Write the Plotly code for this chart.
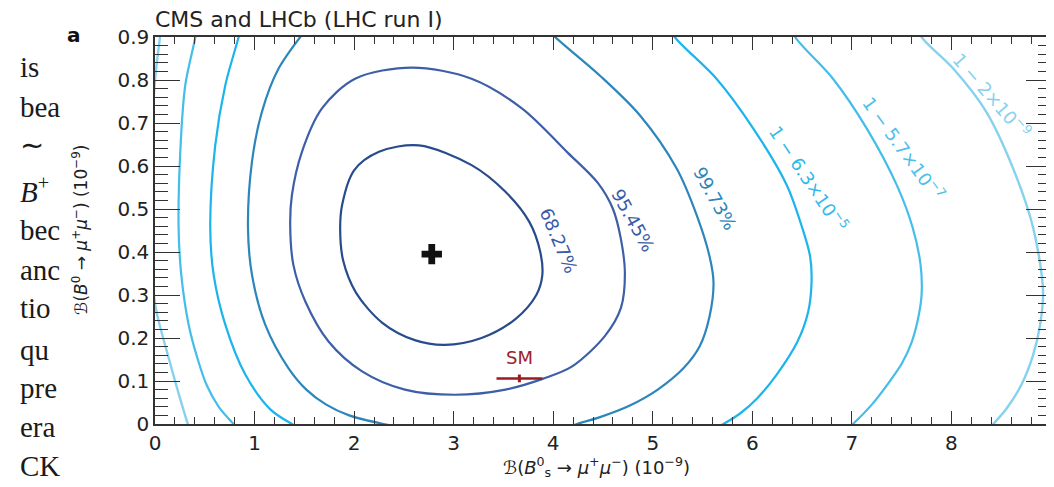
import plotly.graph_objects as go

# ---------------- data ----------------
x_ticks = [0, 1, 2, 3, 4, 5, 6, 7, 8, 9]
y_ticks = [0, 0.1, 0.2, 0.3, 0.4, 0.5, 0.6, 0.7, 0.8, 0.9]

best_fit_x = [2.78]
best_fit_y = [0.395]

sm_x = [3.66]
sm_y = [0.106]
sm_xerr = [0.23]
sm_yerr = [0.009]

# 68.27 % contour (closed)
c1_x = [2.65, 3.18, 3.52, 3.76, 3.87, 3.89, 3.83, 3.62, 3.28, 2.91, 2.61, 2.28, 2.02, 1.89, 1.86, 1.88, 2.00, 2.25, 2.65]
c1_y = [0.648, 0.602, 0.540, 0.470, 0.40, 0.345, 0.300, 0.244, 0.200, 0.184, 0.195, 0.236, 0.305, 0.38, 0.451, 0.51, 0.59, 0.633, 0.648]

# 95.45 % contour (closed)
c2_x = [2.58, 3.18, 3.685, 4.15, 4.45, 4.60, 4.68, 4.72, 4.68, 4.52, 4.19, 3.90, 3.52, 3.015, 2.51, 2.08, 1.743, 1.51, 1.39, 1.358, 1.375, 1.476, 1.677, 2.01, 2.58]
c2_y = [0.829, 0.803, 0.734, 0.630, 0.560, 0.500, 0.430, 0.350, 0.270, 0.205, 0.134, 0.1055, 0.080, 0.068, 0.080, 0.1225, 0.192, 0.285, 0.370, 0.463, 0.532, 0.633, 0.734, 0.803, 0.829]

# 99.73 % contour (left arc, gap, right arc)
c3_x = [1.56, 1.24, 1.074, 0.974, 0.934, 0.974, 1.107, 1.34, 1.52, 1.72, 1.95, 2.295, 2.6, None,
        3.9, 4.0, 4.47, 4.87, 5.24, 5.45, 5.57, 5.61, 5.57, 5.47, 5.31, 5.05, 4.77, 4.47, 4.24, 4.0]
c3_y = [0.93, 0.826, 0.726, 0.61, 0.457, 0.347, 0.231, 0.130, 0.080, 0.045, 0.020, 0.0, -0.012, None,
        0.93, 0.904, 0.81, 0.718, 0.594, 0.48, 0.39, 0.33, 0.25, 0.18, 0.13, 0.08, 0.043, 0.016, 0.0, -0.02]

# 1 - 6.3e-5 contour
c4_x = [0.87, 0.84, 0.706, 0.605, 0.555, 0.589, 0.706, 0.907, 1.158, 1.375, 1.5, None,
        5.15, 5.22, 5.64, 6.01, 6.345, 6.50, 6.58, 6.595, 6.56, 6.45, 6.245, 6.05, 5.88, 5.71, 5.5]
c4_y = [0.93, 0.9, 0.788, 0.648, 0.457, 0.347, 0.231, 0.115, 0.034, 0.0, -0.015, None,
        0.93, 0.9, 0.803, 0.687, 0.556, 0.457, 0.39, 0.331, 0.26, 0.19, 0.115, 0.06, 0.025, 0.0, -0.025]

# 1 - 5.7e-7 contour
c5_x = [0.42, 0.405, 0.304, 0.254, 0.237, 0.264, 0.338, 0.43, 0.52, 0.64, 0.79, 0.9, None,
        6.38, 6.43, 6.81, 7.15, 7.45, 7.61, 7.69, 7.70, 7.66, 7.60, 7.50, 7.38, 7.20, 7.01, 6.85]
c5_y = [0.93, 0.9, 0.788, 0.633, 0.457, 0.347, 0.231, 0.15, 0.09, 0.04, 0.0, -0.025, None,
        0.93, 0.9, 0.803, 0.687, 0.556, 0.457, 0.37, 0.30, 0.24, 0.19, 0.14, 0.0993, 0.045, 0.0, -0.03]

# 1 - 2e-9 contour
c6_x = [0.06, 0.05, 0.0, -0.04, -0.04, 0.0, 0.137, 0.27, 0.33, 0.36, None,
        7.65, 7.70, 8.02, 8.35, 8.62, 8.82, 8.92, 8.89, 8.82, 8.70, 8.55, 8.42, 8.3]
c6_y = [0.93, 0.9, 0.80, 0.6, 0.45, 0.28, 0.154, 0.045, 0.0, -0.02, None,
        0.93, 0.9, 0.826, 0.726, 0.594, 0.457, 0.31, 0.23, 0.16, 0.09, 0.035, 0.0, -0.03]

level_names = ["68.27%", "95.45%", "99.73%",
               "1 − 6.3×10<sup>−5</sup>", "1 − 5.7×10<sup>−7</sup>", "1 − 2×10<sup>−9</sup>"]
label_x = [4.052, 4.805, 5.627, 6.562, 7.516, 8.404]
label_y = [0.426, 0.474, 0.525, 0.571, 0.641, 0.765]
label_angle = [67, 61, 61, 56, 54, 49]

page_text = ["is", "bea", "∼", "<i>B</i><sup>+</sup>", "bec", "anc", "tio", "qu", "pre", "era", "CK"]
page_text_py = [67, 107, 145, 190, 230, 270, 308, 350, 388, 428, 467]

# ---------------- styling ----------------
line_colors = ["#284b8c", "#3d5fa8", "#2c86bc", "#1cb4ec", "#44bdea", "#86d2ee"]
text_colors = ["#3a5ca8", "#3a5ca8", "#2a86bb", "#33b8ea", "#4cc0ea", "#86d2ee"]
line_widths = [2.2, 2.2, 2.2, 2.2, 2.2, 2.4]
FONT = "DejaVu Sans, Liberation Sans, Arial, sans-serif"

# page body has an 8px default margin: plot area placed so it lands where the reference has it
PAGE_OFF = 8
L, T, R, B = 155 - PAGE_OFF, 36.6 - PAGE_OFF, 3, 62.5
W, H = 1054 - PAGE_OFF, 487 - PAGE_OFF
PW, PH = W - L - R, H - T - B

contours = [(c1_x, c1_y), (c2_x, c2_y), (c3_x, c3_y), (c4_x, c4_y), (c5_x, c5_y), (c6_x, c6_y)]

fig = go.Figure()
for (cx, cy), col, lw, name in zip(contours, line_colors, line_widths, level_names):
    fig.add_trace(go.Scatter(x=cx, y=cy, mode="lines", line=dict(color=col, width=lw, shape="spline", smoothing=0.9),
                             name=name, hoverinfo="skip", connectgaps=False))

fig.add_trace(go.Scatter(x=best_fit_x, y=best_fit_y, mode="markers",
                         marker=dict(symbol="cross", size=17, color="#111111", line=dict(width=0)),
                         name="best fit"))

fig.add_trace(go.Scatter(x=sm_x, y=sm_y, mode="markers",
                         marker=dict(size=1, color="#9b1b22"),
                         error_x=dict(type="data", array=sm_xerr, color="#9b1b22", thickness=2.5, width=0),
                         error_y=dict(type="data", array=sm_yerr, color="#9b1b22", thickness=3, width=0),
                         name="SM"))

# invisible trace for the mirrored axes (top / right ticks)
fig.add_trace(go.Scatter(x=[0], y=[0], xaxis="x2", yaxis="y2", mode="markers",
                         marker=dict(size=1, opacity=0), hoverinfo="skip", showlegend=False))


def px_to_paper_x(px):
    return (px - 155) / PW


def py_to_paper_y(py):
    return (424.5 - py) / PH


ann = []
for t, lx, ly, a, c in zip(level_names, label_x, label_y, label_angle, text_colors):
    ann.append(dict(x=lx, y=ly, xref="x", yref="y", text=t, showarrow=False, textangle=a,
                    font=dict(family=FONT, size=18, color=c), xanchor="center", yanchor="middle"))

ann.append(dict(x=3.658, y=0.154, xref="x", yref="y", text="SM", showarrow=False,
                font=dict(family=FONT, size=18, color="#9b2226"), xanchor="center", yanchor="middle"))

ann.append(dict(x=px_to_paper_x(153), y=py_to_paper_y(19), xref="paper", yref="paper",
                text="CMS and LHCb (LHC run I)", showarrow=False,
                font=dict(family=FONT, size=22, color="#222222"), xanchor="left", yanchor="middle"))
ann.append(dict(x=px_to_paper_x(74), y=py_to_paper_y(35), xref="paper", yref="paper", text="<b>a</b>",
                showarrow=False, font=dict(family=FONT, size=20, color="#111111"),
                xanchor="center", yanchor="middle"))

ann.append(dict(x=px_to_paper_x(596), y=py_to_paper_y(468), xref="paper", yref="paper",
                text="ℬ(<i>B</i><sup>0</sup><sub>s</sub> → <i>μ</i><sup>+</sup><i>μ</i><sup>−</sup>) (10<sup>−9</sup>)",
                showarrow=False, font=dict(family=FONT, size=18, color="#222222"),
                xanchor="center", yanchor="middle"))
ann.append(dict(x=px_to_paper_x(80), y=py_to_paper_y(230), xref="paper", yref="paper",
                text="ℬ(<i>B</i><sup>0</sup> → <i>μ</i><sup>+</sup><i>μ</i><sup>−</sup>) (10<sup>−9</sup>)",
                showarrow=False, textangle=-90, font=dict(family=FONT, size=17, color="#222222"),
                xanchor="center", yanchor="middle"))

for t, py in zip(page_text, page_text_py):
    ann.append(dict(x=px_to_paper_x(18), y=py_to_paper_y(py), xref="paper", yref="paper", text=t,
                    showarrow=False, font=dict(family="Liberation Serif, Times New Roman, serif", size=29, color="#1a1a1a"),
                    xanchor="left", yanchor="middle"))

axis_common = dict(showgrid=False, zeroline=False, showline=True, linecolor="#333333", linewidth=1.5,
                   ticks="inside", tickcolor="#333333", tickwidth=1.4)

fig.update_layout(
    width=W, height=H,
    margin=dict(l=L, r=R, t=T, b=B, autoexpand=False),
    paper_bgcolor="white", plot_bgcolor="white",
    showlegend=False,
    annotations=ann,
    xaxis=dict(range=[0, 9], tickvals=x_ticks, ticklen=13,
               minor=dict(dtick=0.2, ticklen=7, ticks="inside", tickcolor="#333333", tickwidth=1.3),
               tickfont=dict(family=FONT, size=20, color="#222222"), **axis_common),
    yaxis=dict(range=[0, 0.9], tickvals=y_ticks, ticklen=25,
               minor=dict(dtick=0.02, ticklen=13, ticks="inside", tickcolor="#333333", tickwidth=1.3),
               tickfont=dict(family=FONT, size=20, color="#222222"), **axis_common),
    xaxis2=dict(range=[0, 9], overlaying="x", side="top", tickvals=x_ticks, ticklen=13, showticklabels=False,
                minor=dict(dtick=0.2, ticklen=7, ticks="inside", tickcolor="#333333", tickwidth=1.3),
                **axis_common),
    yaxis2=dict(range=[0, 0.9], overlaying="y", side="right", tickvals=y_ticks, ticklen=25, showticklabels=False,
                minor=dict(dtick=0.02, ticklen=13, ticks="inside", tickcolor="#333333", tickwidth=1.3),
                **axis_common),
)

fig.write_html("out.html")
